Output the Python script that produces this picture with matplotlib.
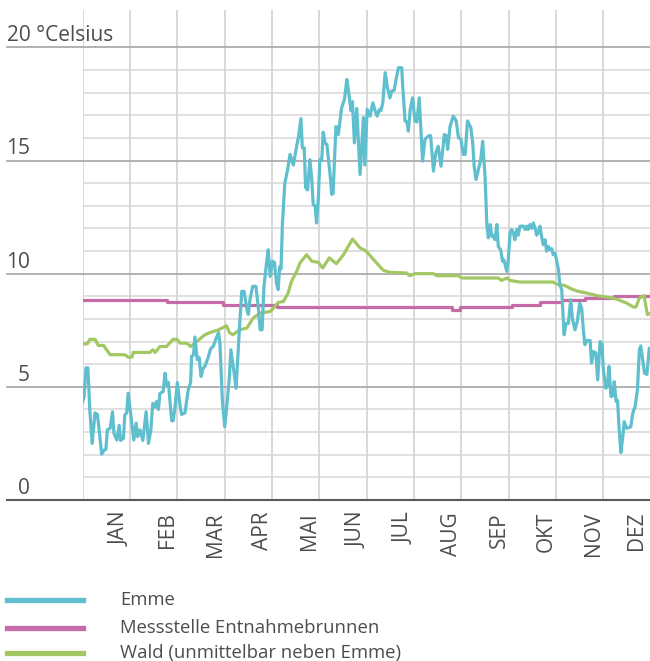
import matplotlib
matplotlib.use("Agg")
import matplotlib.pyplot as plt
from matplotlib.lines import Line2D

plt.rcParams['font.family'] = ['Open Sans', 'DejaVu Sans']

# ---- data (x in months since 1 Jan, y in °C) ----
months = ["JAN", "FEB", "MAR", "APR", "MAI", "JUN", "JUL", "AUG", "SEP", "OKT", "NOV", "DEZ"]
y_ticks = [0, 5, 10, 15]

emme_x = [0.00, 0.03, 0.07, 0.11, 0.15, 0.20, 0.26, 0.31, 0.34, 0.40, 0.45, 0.49, 0.52, 0.58, 0.63,
          0.66, 0.72, 0.77, 0.80, 0.86, 0.89, 0.93, 0.96, 1.02, 1.08, 1.13, 1.16, 1.21, 1.27, 1.34,
          1.39, 1.44, 1.48, 1.53, 1.56, 1.60, 1.63, 1.70, 1.74, 1.77, 1.81, 1.88, 1.91, 1.95, 2.00,
          2.06, 2.09, 2.16, 2.23, 2.28, 2.30, 2.34, 2.37, 2.42, 2.46, 2.50, 2.54, 2.58, 2.65, 2.70,
          2.76, 2.82, 2.87, 2.90, 2.95, 3.00, 3.04, 3.10, 3.13, 3.17, 3.20, 3.24, 3.27, 3.31, 3.36,
          3.41, 3.47, 3.50, 3.53, 3.59, 3.66, 3.71, 3.75, 3.79, 3.83, 3.89, 3.92, 3.96, 4.01, 4.05,
          4.10, 4.13, 4.16, 4.19, 4.22, 4.27, 4.33, 4.38, 4.45, 4.52, 4.56, 4.61, 4.64, 4.68, 4.71,
          4.75, 4.80, 4.84, 4.87, 4.91, 4.94, 4.98, 5.01, 5.05, 5.08, 5.12, 5.16, 5.23, 5.26, 5.29,
          5.35, 5.40, 5.47, 5.53, 5.58, 5.61, 5.67, 5.70, 5.74, 5.79, 5.86, 5.93, 5.96, 6.01, 6.07,
          6.13, 6.18, 6.22, 6.27, 6.30, 6.34, 6.39, 6.44, 6.49, 6.53, 6.58, 6.62, 6.67, 6.74, 6.76,
          6.81, 6.85, 6.88, 6.92, 6.97, 7.02, 7.06, 7.11, 7.18, 7.23, 7.30, 7.35, 7.41, 7.46, 7.51,
          7.57, 7.64, 7.68, 7.71, 7.76, 7.83, 7.89, 7.94, 7.99, 8.04, 8.08, 8.13, 8.20, 8.24, 8.27,
          8.31, 8.36, 8.41, 8.45, 8.50, 8.54, 8.57, 8.61, 8.64, 8.67, 8.71, 8.75, 8.78, 8.83, 8.87,
          8.90, 8.96, 8.99, 9.03, 9.06, 9.10, 9.13, 9.17, 9.20, 9.24, 9.31, 9.35, 9.38, 9.41, 9.45,
          9.49, 9.52, 9.56, 9.59, 9.63, 9.66, 9.70, 9.73, 9.77, 9.80, 9.84, 9.87, 9.91, 9.94, 9.98,
          10.01, 10.05, 10.08, 10.12, 10.17, 10.21, 10.26, 10.31, 10.35, 10.40, 10.45, 10.50, 10.54,
          10.58, 10.61, 10.66, 10.72, 10.75, 10.79, 10.84, 10.88, 10.93, 10.97, 11.00, 11.05, 11.08,
          11.12, 11.16, 11.20, 11.23, 11.27, 11.30, 11.33, 11.37, 11.41, 11.44, 11.49, 11.54, 11.58,
          11.62, 11.67, 11.72, 11.76, 11.79, 11.83, 11.87, 11.92, 11.97, 12.00]
emme_y = [4.35, 4.57, 5.84, 5.84, 3.98, 2.50, 3.85, 3.78, 3.24, 2.03, 2.20, 2.24, 3.10, 3.17, 3.90,
          2.95, 2.65, 3.30, 2.63, 2.73, 3.76, 3.85, 4.72, 3.70, 2.65, 3.40, 2.80, 3.10, 2.63, 3.90,
          2.50, 3.10, 4.27, 4.10, 4.35, 4.00, 4.70, 4.80, 5.60, 5.10, 5.20, 3.50, 3.50, 4.10, 5.19,
          4.10, 3.78, 3.85, 4.87, 5.20, 6.34, 6.40, 7.20, 6.20, 6.30, 5.46, 5.80, 5.90, 6.30, 6.67,
          6.80, 7.15, 7.40, 6.90, 4.42, 3.24, 4.05, 5.46, 6.64, 6.05, 5.60, 4.94, 6.05, 7.52, 9.22,
          9.22, 8.40, 8.20, 8.80, 9.44, 9.44, 8.50, 7.52, 7.52, 9.44, 10.60, 11.06, 9.88, 10.55, 10.50,
          9.50, 9.30, 10.30, 10.20, 12.24, 14.00, 14.60, 15.27, 14.80, 15.63, 16.05, 16.85, 15.56, 15.56, 13.80,
          13.70, 15.04, 14.16, 13.05, 13.00, 12.24, 13.40, 15.04, 15.00, 16.25, 15.78, 15.70, 14.30, 13.50, 13.55,
          16.50, 16.15, 17.33, 17.70, 18.58, 18.14, 17.20, 17.60, 15.78, 17.30, 14.38, 16.90, 14.80, 17.26, 16.96,
          17.55, 17.18, 16.96, 17.26, 17.20, 17.55, 18.88, 18.20, 17.77, 18.07, 18.10, 18.58, 19.10, 19.10, 18.30,
          16.75, 16.70, 16.30, 17.26, 17.77, 16.75, 16.70, 17.77, 14.97, 15.93, 16.08, 16.10, 14.53, 15.34, 15.63,
          14.75, 16.15, 16.10, 15.49, 16.50, 16.96, 16.75, 16.00, 15.95, 15.27, 15.27, 16.75, 16.45, 15.78, 14.75,
          14.16, 14.60, 15.04, 15.85, 14.30, 12.10, 11.58, 12.17, 11.65, 11.70, 11.50, 12.17, 11.20, 11.06, 10.55,
          10.60, 10.10, 10.60, 11.80, 11.95, 11.80, 11.50, 11.95, 11.70, 12.10, 12.10, 11.95, 12.10, 11.95, 12.17,
          12.00, 12.24, 12.00, 11.70, 11.85, 12.10, 11.58, 11.28, 11.50, 10.99, 11.20, 11.06, 11.10, 10.84, 10.90,
          10.60, 10.20, 9.50, 9.30, 7.30, 7.80, 7.80, 8.85, 7.96, 7.52, 7.90, 8.70, 8.50,
          7.45, 6.86, 7.05, 7.05, 6.05, 6.56, 6.50, 5.31, 7.00, 6.90, 5.75, 4.94, 5.00,
          5.90, 4.57, 4.60, 5.23, 4.35, 4.40, 3.24, 2.10, 2.80, 3.46, 3.17, 3.20, 3.24,
          3.83, 4.13, 4.87, 6.64, 6.81, 6.20, 5.60, 5.55, 6.71, 6.60]

messstelle_x = [0.00, 1.79, 2.96, 4.11, 7.80, 7.97, 9.06, 9.66, 10.12, 10.61, 11.23, 12.00]
messstelle_y = [8.85, 8.75, 8.63, 8.53, 8.41, 8.53, 8.60, 8.73, 8.84, 8.92, 9.03, 9.03]

wald_x = [0.00, 0.10, 0.15, 0.26, 0.33, 0.44, 0.58, 0.89, 0.96, 1.04, 1.07, 1.42, 1.48, 1.53, 1.63,
          1.77, 1.91, 1.99, 2.06, 2.20, 2.28, 2.41, 2.58, 2.69, 2.87, 3.04, 3.10, 3.17, 3.32, 3.47,
          3.60, 3.75, 3.96, 4.03, 4.13, 4.24, 4.34, 4.41, 4.52, 4.59, 4.73, 4.84, 4.98, 5.07, 5.21,
          5.36, 5.51, 5.70, 5.86, 5.96, 6.03, 6.21, 6.35, 6.49, 6.84, 6.91, 7.02, 7.41, 7.48, 7.94,
          8.01, 8.78, 8.85, 8.96, 9.03, 9.24, 9.94, 10.01, 10.19, 10.33, 10.47, 10.65, 10.86, 11.21,
          11.35, 11.49, 11.63, 11.69, 11.76, 11.86, 11.93, 12.00]
wald_y = [6.90, 6.90, 7.10, 7.10, 6.83, 6.83, 6.42, 6.42, 6.31, 6.31, 6.52, 6.52, 6.64, 6.52, 6.78,
          6.78, 7.10, 7.10, 6.93, 6.93, 6.78, 7.00, 7.30, 7.40, 7.52, 7.70, 7.40, 7.30, 7.52, 7.60,
          8.04, 8.26, 8.33, 8.48, 8.73, 8.77, 9.14, 9.66, 10.10, 10.47, 10.84, 10.55, 10.50, 10.25, 10.70,
          10.44, 10.84, 11.53, 11.14, 11.03, 10.90, 10.47, 10.15, 10.06, 10.03, 9.91, 10.00, 10.00, 9.91, 9.91,
          9.81, 9.81, 9.70, 9.81, 9.70, 9.63, 9.63, 9.54, 9.47, 9.32, 9.22, 9.14, 9.03, 8.92,
          8.82, 8.70, 8.53, 8.53, 8.92, 9.03, 8.19, 8.26]

labels = ["Emme", "Messstelle Entnahmebrunnen", "Wald (unmittelbar neben Emme)"]
colors = ["#5FBFCE", "#C56BA8", "#A2C864"]

# ---- figure ----
W, H = 650, 661
fig = plt.figure(figsize=(W / 100, H / 100), dpi=100)
ax_left, ax_right, ax_top, ax_bottom = 82.7, 650.7, 10, 500
ax = fig.add_axes([ax_left / W, (H - ax_bottom) / H, (ax_right - ax_left) / W, (ax_bottom - ax_top) / H])
ymax = 21.65
ax.set_xlim(0, 12)
ax.set_ylim(0, ymax)
for s in ax.spines.values():
    s.set_visible(False)
ax.set_xticks([])
ax.set_yticks([])

text_color = "#4D4D4D"
left_ext = (7 - ax_left) / ((ax_right - ax_left) / 12)  # in month units

# grid
for v in range(1, 20):
    if v % 5:
        ax.axhline(v, color="#DDDDDD", lw=1.3, zorder=0)
for m in range(13):
    ax.axvline(m, color="#D6D6D6", lw=1.3, zorder=0)
for v in (5, 10, 15, 20):
    ax.plot([left_ext, 12], [v, v], color="#ABABAB", lw=1.3, clip_on=False, zorder=1)
ax.plot([left_ext, 12], [0, 0], color="#5A5A5A", lw=1.5, clip_on=False, zorder=1)

# data
ax.plot(messstelle_x, messstelle_y, color=colors[1], lw=2.3, drawstyle="steps-post", zorder=3)
ax.plot(wald_x, wald_y, color=colors[2], lw=2.3, zorder=4, solid_joinstyle="round")
ax.plot(emme_x, emme_y, color=colors[0], lw=2.3, zorder=5, solid_joinstyle="round")

# y labels
lab_x = (30 - ax_left) / ((ax_right - ax_left) / 12)
for v in y_ticks:
    ax.text(lab_x, v + 0.27, str(v), ha="right", va="baseline", fontsize=15,
            color=text_color, clip_on=False)
ax.text(left_ext, 20 + 0.28, "20 °Celsius", ha="left", va="baseline", fontsize=15,
        color=text_color, clip_on=False)

# month labels
for k, mname in enumerate(months):
    xpos = k + 0.80 if k < 11 else k + 0.70
    ax.text(xpos, -12 / (ax_bottom - ax_top), mname, rotation=90, ha="center", va="top",
            fontsize=15, color=text_color, transform=ax.get_xaxis_transform(), clip_on=False)

# legend
leg_y = [600, 628, 653]
for c, lab, yy in zip(colors, labels, leg_y):
    fy = (H - yy) / H
    fig.add_artist(Line2D([7 / W, 83 / W], [fy, fy], color=c, lw=3.8, transform=fig.transFigure))
    fig.text(120 / W, fy, lab, ha="left", va="center", fontsize=13.3, color=text_color)

fig.savefig("out.png", dpi=100)
